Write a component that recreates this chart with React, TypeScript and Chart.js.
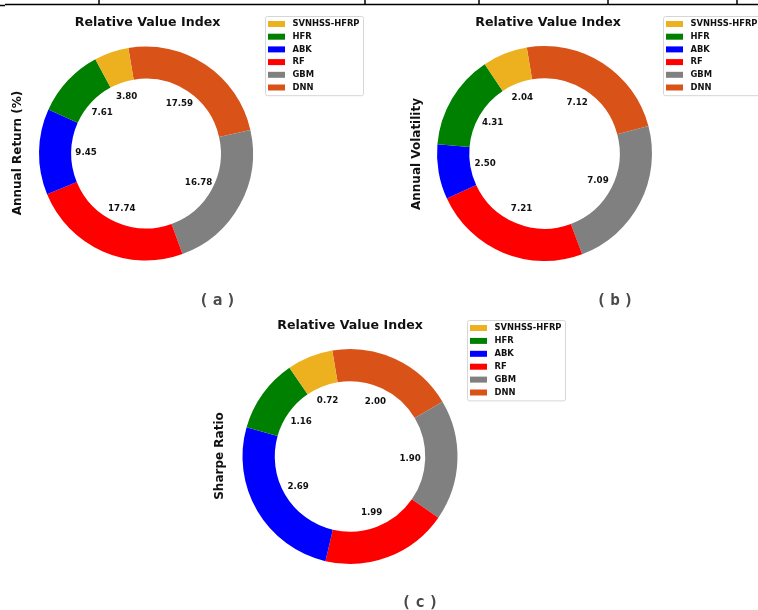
import React, { useEffect, useRef } from "react";
import { Chart, registerables } from "chart.js";

Chart.register(...registerables);

// Methods compared in every panel, in legend order
const methods = ["SVNHSS-HFRP", "HFR", "ABK", "RF", "GBM", "DNN"];
const methodColors = ["#EDB120", "#008000", "#0000FF", "#FF0000", "#808080", "#D95319"];

// Panel values, one per method
const annualReturn = [3.8, 7.61, 9.45, 17.74, 16.78, 17.59];
const annualVolatility = [2.04, 4.31, 2.5, 7.21, 7.09, 7.12];
const sharpeRatio = [0.72, 1.16, 2.69, 1.99, 1.9, 2.0];

const panelTitle = "Relative Value Index";

const W = 758;
const H = 610;
const FONT = '"DejaVu Sans", sans-serif';

type Panel = {
  values: number[];
  yLabel: string;
  caption: string;
  cx: number;
  cy: number;
  r: number;
  titleX: number;
  titleY: number;
  yLabelX: number;
  yLabelY: number;
  legendX: number;
  legendY: number;
  legendRow: number;
  captionX: number;
  captionY: number;
  frame?: boolean;
};

const panels: Panel[] = [
  {
    values: annualReturn,
    yLabel: "Annual Return (%)",
    caption: "(a)",
    cx: 146, cy: 153.5, r: 107,
    titleX: 147.5, titleY: 23,
    yLabelX: 18, yLabelY: 153,
    legendX: 265, legendY: 16, legendRow: 12.7,
    captionX: 217.5, captionY: 300.5,
    frame: true,
  },
  {
    values: annualVolatility,
    yLabel: "Annual Volatility",
    caption: "(b)",
    cx: 544.5, cy: 153.5, r: 107.5,
    titleX: 548, titleY: 23,
    yLabelX: 417, yLabelY: 154,
    legendX: 663, legendY: 16, legendRow: 12.7,
    captionX: 615, captionY: 300.5,
  },
  {
    values: sharpeRatio,
    yLabel: "Sharpe Ratio",
    caption: "(c)",
    cx: 350, cy: 456.5, r: 107.5,
    titleX: 350, titleY: 326,
    yLabelX: 220, yLabelY: 456,
    legendX: 467, legendY: 320, legendRow: 12.9,
    captionX: 420, captionY: 603,
  },
];

function decor(p: Panel) {
  return {
    id: "panelDecor",
    afterDraw(chart: any) {
      const ctx: CanvasRenderingContext2D = chart.ctx;
      ctx.save();

      // page frame rule along the top edge
      if (p.frame) {
        ctx.strokeStyle = "#000";
        ctx.lineWidth = 1.5;
        ctx.beginPath();
        ctx.moveTo(5, 4.5);
        ctx.lineTo(W, 4.5);
        ctx.moveTo(0, 5.5);
        ctx.lineTo(5, 5.5);
        for (const x of [99, 365, 479, 608, 737]) {
          ctx.moveTo(x, 0);
          ctx.lineTo(x, 4.5);
        }
        ctx.stroke();
      }

      // value labels at the middle angle of each slice
      const meta = chart.getDatasetMeta(0);
      const data = chart.data.datasets[0].data as number[];
      ctx.fillStyle = "#111";
      ctx.font = `bold 8.7px ${FONT}`;
      ctx.textAlign = "center";
      ctx.textBaseline = "middle";
      meta.data.forEach((arc: any, i: number) => {
        const { x, y, startAngle, endAngle, outerRadius } = arc.getProps(
          ["x", "y", "startAngle", "endAngle", "outerRadius"],
          true
        );
        const mid = (startAngle + endAngle) / 2;
        const rr = outerRadius * 0.56;
        ctx.fillText(data[i].toFixed(2), x + Math.cos(mid) * rr, y + Math.sin(mid) * rr);
      });

      // title
      ctx.fillStyle = "#111";
      ctx.font = `bold 12.6px ${FONT}`;
      ctx.fillText(panelTitle, p.titleX, p.titleY);

      // rotated axis label
      ctx.save();
      ctx.translate(p.yLabelX, p.yLabelY);
      ctx.rotate(-Math.PI / 2);
      ctx.font = `bold 12px ${FONT}`;
      ctx.fillText(p.yLabel, 0, 0);
      ctx.restore();

      // legend
      const boxH = p.legendRow * methods.length + 3;
      ctx.beginPath();
      ctx.roundRect(p.legendX + 0.5, p.legendY + 0.5, 98, boxH, 2);
      ctx.fillStyle = "rgba(255,255,255,0.85)";
      ctx.fill();
      ctx.strokeStyle = "#d6d6d6";
      ctx.lineWidth = 1;
      ctx.stroke();
      ctx.font = `bold 8.4px ${FONT}`;
      ctx.textAlign = "left";
      methods.forEach((m, i) => {
        const ry = p.legendY + 8 + i * p.legendRow;
        ctx.fillStyle = methodColors[i];
        ctx.fillRect(p.legendX + 3, ry - 3, 17, 6);
        ctx.fillStyle = "#111";
        ctx.fillText(m, p.legendX + 27.5, ry);
      });

      // caption
      ctx.fillStyle = "#4a4a4a";
      ctx.font = `bold 16px "DejaVu Sans Mono", monospace`;
      ctx.textAlign = "center";
      (ctx as any).letterSpacing = "4px";
      ctx.fillText(p.caption, p.captionX + 2, p.captionY);
      (ctx as any).letterSpacing = "0px";

      ctx.restore();
    },
  };
}

function DonutPanel({ panel }: { panel: Panel }) {
  const ref = useRef<HTMLCanvasElement | null>(null);
  useEffect(() => {
    if (!ref.current) return;
    // Chart.js sweeps clockwise; feed the series reversed so the slices run
    // counter-clockwise in legend order.
    const chart = new Chart(ref.current, {
      type: "doughnut",
      data: {
        labels: [...methods].reverse(),
        datasets: [
          {
            data: [...panel.values].reverse(),
            backgroundColor: [...methodColors].reverse(),
            borderWidth: 0,
            hoverOffset: 0,
          },
        ],
      },
      options: {
        responsive: false,
        animation: false,
        cutout: "70%",
        rotation: -9.5,
        events: [],
        layout: {
          padding: {
            left: panel.cx - panel.r,
            top: panel.cy - panel.r,
            right: W - (panel.cx + panel.r),
            bottom: H - (panel.cy + panel.r),
          },
        },
        plugins: {
          legend: { display: false },
          title: { display: false },
          tooltip: { enabled: false },
        },
      },
      plugins: [decor(panel)],
    });
    return () => chart.destroy();
  }, [panel]);
  return (
    <canvas
      ref={ref}
      width={W}
      height={H}
      style={{ position: "absolute", left: 0, top: 0, width: W, height: H }}
    />
  );
}

export default function App() {
  return (
    <div style={{ position: "absolute", left: 0, top: 0, width: W, height: H, background: "#fff" }}>
      {panels.map((p) => (
        <DonutPanel key={p.caption} panel={p} />
      ))}
    </div>
  );
}
